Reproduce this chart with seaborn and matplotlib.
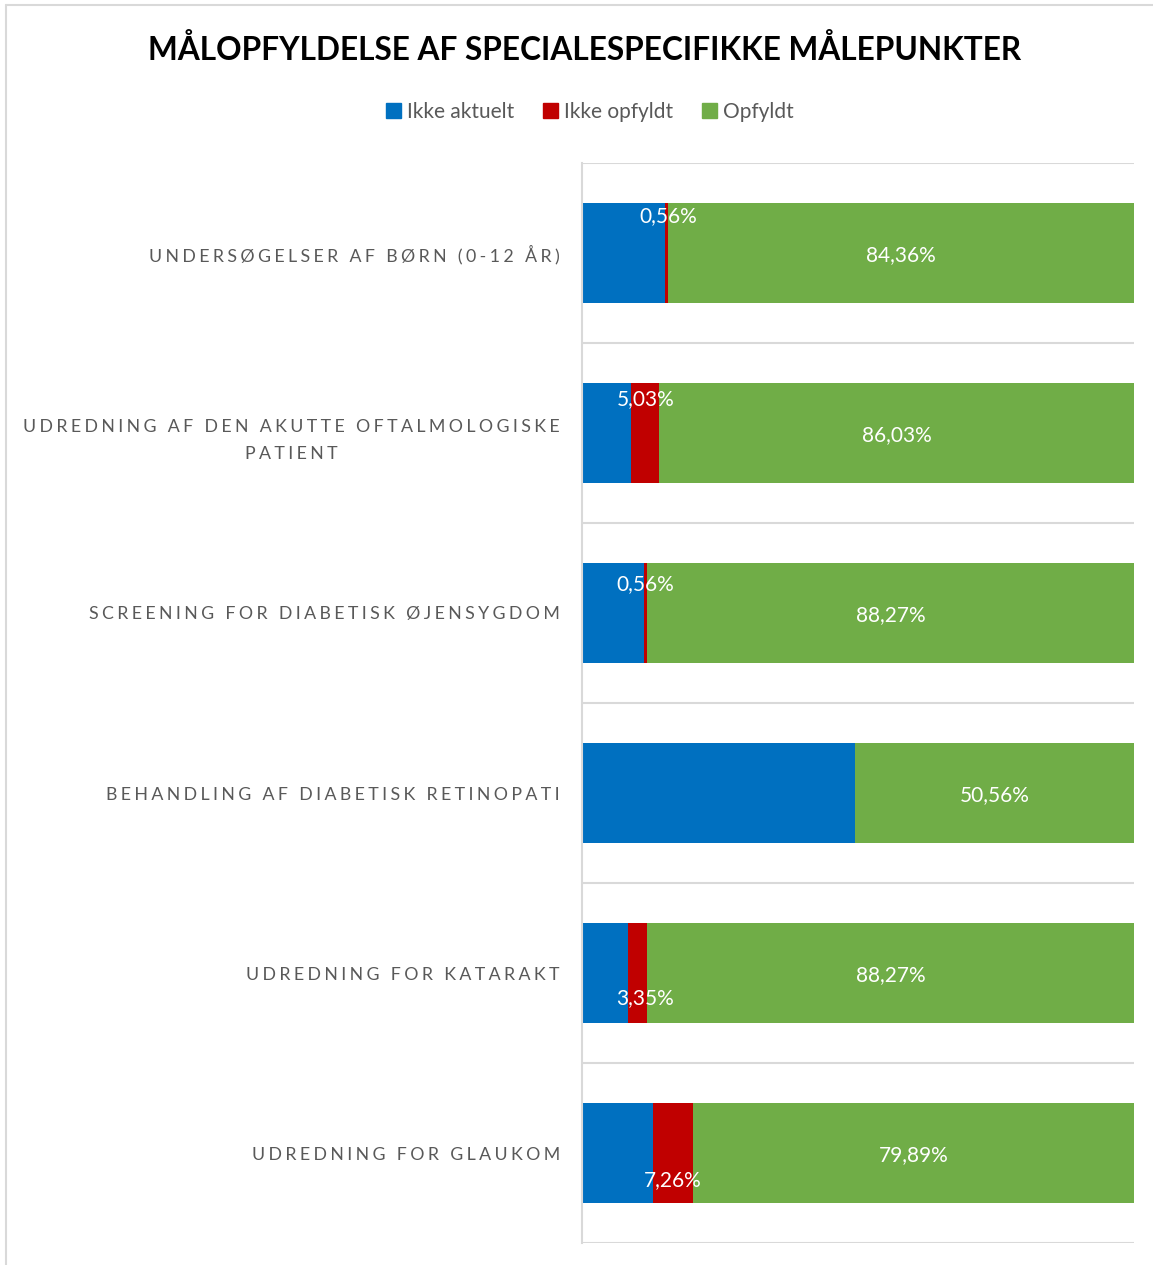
import numpy as np
import pandas as pd
import matplotlib
matplotlib.use("Agg")
import matplotlib.pyplot as plt
from matplotlib.lines import Line2D
import seaborn as sns

# data (percent)
categories = [
    "UNDERSØGELSER AF BØRN (0-12 ÅR)",
    "UDREDNING AF DEN AKUTTE OFTALMOLOGISKE\nPATIENT",
    "SCREENING FOR DIABETISK ØJENSYGDOM",
    "BEHANDLING AF DIABETISK RETINOPATI",
    "UDREDNING FOR KATARAKT",
    "UDREDNING FOR GLAUKOM",
]
ikke_opfyldt = [0.56, 5.03, 0.56, 0.00, 3.35, 7.26]
opfyldt = [84.36, 86.03, 88.27, 50.56, 88.27, 79.89]
ikke_aktuelt = [100 - a - b for a, b in zip(ikke_opfyldt, opfyldt)]
series = ["Ikke aktuelt", "Ikke opfyldt", "Opfyldt"]
colors = ["#0070C0", "#C00000", "#70AD47"]

# where Excel put the "ikke opfyldt" labels (offset from segment centre)
red_label_dy = [-0.215, -0.2, -0.172, 0.0, 0.128, 0.139]
red_label_dx = [0.3, 0.0, 0.0, 0.0, 1.4, 0.0]

df = pd.DataFrame({
    "kategori": categories,
    "Ikke aktuelt": ikke_aktuelt,
    "Ikke opfyldt": ikke_opfyldt,
    "Opfyldt": opfyldt,
})
df["cum_red"] = df["Ikke aktuelt"] + df["Ikke opfyldt"]
df["cum_green"] = df["cum_red"] + df["Opfyldt"]

sns.set_theme(style="white")
plt.rcParams["font.family"] = ["Lato", "DejaVu Sans"]

fig = plt.figure(figsize=(11.53, 12.65), dpi=100)
ax = fig.add_axes([582 / 1153, 1 - 1243 / 1265, 552 / 1153, 1080 / 1265])

bar_h = 100 / 180
sns.barplot(data=df, y="kategori", x="cum_green", color=colors[2], orient="h",
            width=bar_h, ax=ax, saturation=1, linewidth=0)
sns.barplot(data=df, y="kategori", x="cum_red", color=colors[1], orient="h",
            width=bar_h, ax=ax, saturation=1, linewidth=0)
sns.barplot(data=df, y="kategori", x="Ikke aktuelt", color=colors[0], orient="h",
            width=bar_h, ax=ax, saturation=1, linewidth=0)

ax.set_xlim(0, 100)
ax.set_ylim(len(categories) - 0.5, -0.5)
ax.set_xticks([])
ax.set_xlabel("")
ax.set_ylabel("")

# separators between categories
for b in np.arange(-0.5, len(categories), 1.0):
    ax.axhline(b, color="#D9D9D9", lw=1.5, zorder=0)
for s in ["top", "right", "bottom"]:
    ax.spines[s].set_visible(False)
ax.spines["left"].set_color("#D9D9D9")
ax.spines["left"].set_linewidth(1.5)

# letter-spaced category labels
def spaced(txt):
    gap = "\u2009\u200a"
    lines = []
    for line in txt.split("\n"):
        words = [gap.join(list(w)) for w in line.split(" ")]
        lines.append((gap + " " + gap).join(words))
    return "\n".join(lines)

ax.set_yticks(range(len(categories)))
ax.set_yticklabels([spaced(c) for c in categories], fontsize=12.8,
                   color="#595959", multialignment="center", linespacing=1.85)
ax.tick_params(axis="y", length=0, pad=16)

def fmt(v):
    return f"{v:.2f}".replace(".", ",") + "%"

for i in range(len(categories)):
    g0 = df["cum_red"][i]
    ax.text(g0 + opfyldt[i] / 2, i, fmt(opfyldt[i]), color="white",
            fontsize=15, ha="center", va="center_baseline")
    if ikke_opfyldt[i] > 0:
        xr = ikke_aktuelt[i] + ikke_opfyldt[i] / 2 + red_label_dx[i]
        ax.text(xr, i + red_label_dy[i], fmt(ikke_opfyldt[i]), color="white",
                fontsize=15, ha="center", va="center_baseline", zorder=5)

# title and legend
fig.text(585 / 1153, 1 - 49 / 1265, "MÅLOPFYLDELSE AF SPECIALESPECIFIKKE MÅLEPUNKTER",
         fontsize=22.8, fontweight="bold", color="black", ha="center", va="center")
handles = [plt.Rectangle((0, 0), 1, 1, color=c) for c in colors]
fig.legend(handles, series, loc="center", bbox_to_anchor=(590 / 1153, 1 - 112 / 1265),
           ncol=3, frameon=False, fontsize=15, handlelength=0.7, handleheight=0.7,
           handletextpad=0.3, columnspacing=1.4, labelcolor="#595959")

# chart border (left and top visible)
fig.add_artist(Line2D([6 / 1153, 6 / 1153], [0, 1 - 5 / 1265], color="#D9D9D9", lw=1.5))
fig.add_artist(Line2D([6 / 1153, 1], [1 - 5 / 1265, 1 - 5 / 1265], color="#D9D9D9", lw=1.5))

fig.savefig("out.png", dpi=100)
